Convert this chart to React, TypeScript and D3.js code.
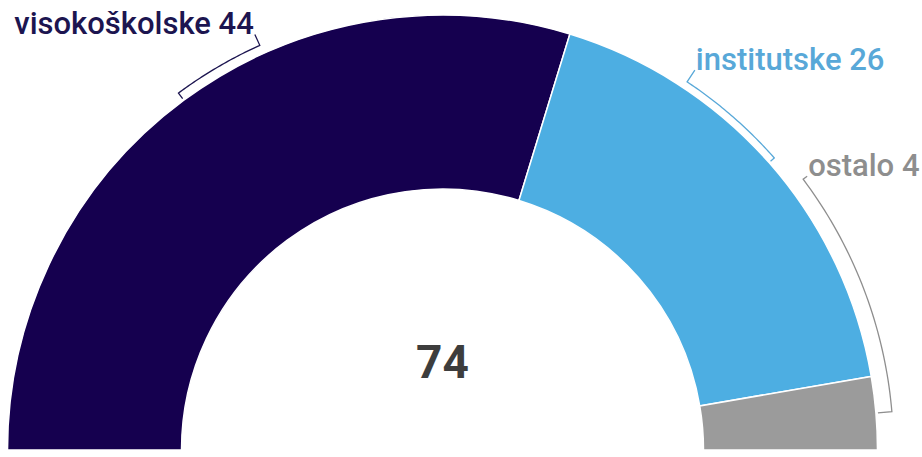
import React from "react";
import * as d3 from "d3";

const categories = ["visokoškolske", "institutske", "ostalo"];
const values = [44, 26, 4];
const colors = ["#15004f", "#4daee2", "#9b9b9b"];
const labelColors = ["#1c1550", "#58a8d8", "#8e8e8e"];
// label layout (angles in degrees, clockwise from top) — placement of the label side of each bracket
const labelAngles = [-24.3, 33.6, 53.1];
const bracketRadii = [444, 442, 451];

const W = 922;
const H = 457;
const cx = 442.5;
const cy = 450;
const outerR = 435;
const innerR = 261;

function pt(r: number, aDeg: number): [number, number] {
  const a = (aDeg * Math.PI) / 180;
  return [cx + r * Math.sin(a), cy - r * Math.cos(a)];
}

export default function App() {
  const total = d3.sum(values);
  const pie = d3
    .pie<number>()
    .sort(null)
    .startAngle(-Math.PI / 2)
    .endAngle(Math.PI / 2)
    .value((d) => d);
  const arcs = pie(values);
  const arcGen = d3.arc<d3.PieArcDatum<number>>().innerRadius(innerR).outerRadius(outerR);

  return (
    <div style={{ position: "absolute", left: 0, top: 0 }}>
      <svg width={W} height={H} style={{ display: "block", fontFamily: "Roboto, sans-serif" }}>
        <g transform={`translate(${cx},${cy})`}>
          {arcs.map((a, i) => (
            <path key={i} d={arcGen(a) || ""} fill={colors[i]} stroke="#fff" strokeWidth={1.5} />
          ))}
        </g>
        {arcs.map((a, i) => {
          const midDeg = (((a.startAngle + a.endAngle) / 2) * 180) / Math.PI;
          const labDeg = labelAngles[i];
          const rb = bracketRadii[i];
          const steps = 40;
          const pts: [number, number][] = [];
          pts.push(pt(456, labDeg));
          for (let s = 0; s <= steps; s++) {
            pts.push(pt(rb, labDeg + ((midDeg - labDeg) * s) / steps));
          }
          pts.push(pt(outerR + 2, midDeg));
          const line = d3.line();
          const [tx, ty] = pt(456, labDeg);
          const left = labDeg < 0;
          return (
            <g key={i}>
              <path d={line(pts) || ""} fill="none" stroke={labelColors[i]} strokeWidth={1.3} />
              <text
                x={tx + (left ? -1 : 1)}
                y={ty}
                textAnchor={left ? "end" : "start"}
                fill={labelColors[i]}
                fontSize={31}
                fontWeight={500}
              >
                {`${categories[i]} ${values[i]}`}
              </text>
            </g>
          );
        })}
        <text x={cx} y={378} textAnchor="middle" fontSize={46} fontWeight={700} fill="#3d3d3d">
          {total}
        </text>
      </svg>
    </div>
  );
}
